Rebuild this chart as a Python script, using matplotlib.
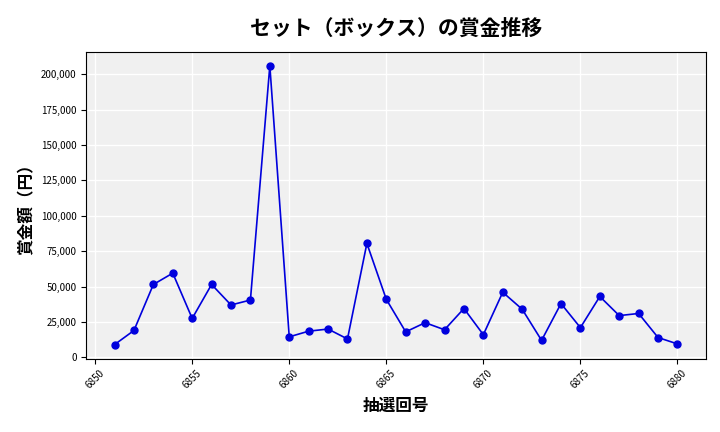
import matplotlib
matplotlib.use("Agg")
import matplotlib.pyplot as plt
from matplotlib.ticker import FuncFormatter

plt.rcParams['font.family'] = ['Noto Sans CJK JP', 'DejaVu Sans']

draws = list(range(6851, 6881))
prizes = [9000, 19000, 51500, 59500, 27500, 51500, 37000, 40500, 206000, 14500,
          18500, 20000, 13000, 80500, 41000, 18000, 24500, 19500, 34500, 16000,
          46000, 34000, 12000, 38000, 21000, 43000, 29500, 31000, 14000, 9500]

fig, ax = plt.subplots(figsize=(7.2, 4.32), dpi=100)
ax.set_facecolor('#f0f0f0')
ax.plot(draws, prizes, color='#0000dd', marker='o', markersize=5, linewidth=1.2)
ax.grid(True, color='white', linewidth=1)
ax.set_axisbelow(True)
ax.yaxis.set_major_formatter(FuncFormatter(lambda v, p: f"{int(v):,}"))
ax.set_xticks(range(6850, 6881, 5))
ax.tick_params(axis='x', labelrotation=45, labelsize=7)
ax.tick_params(axis='y', labelsize=7)
ax.set_title('セット（ボックス）の賞金推移', fontsize=15, fontweight='bold', pad=12)
ax.set_xlabel('抽選回号', fontsize=12, fontweight='bold')
ax.set_ylabel('賞金額（円）', fontsize=12, fontweight='bold')
fig.subplots_adjust(left=0.12, right=0.98, top=0.88, bottom=0.17)
fig.savefig('out.png')
